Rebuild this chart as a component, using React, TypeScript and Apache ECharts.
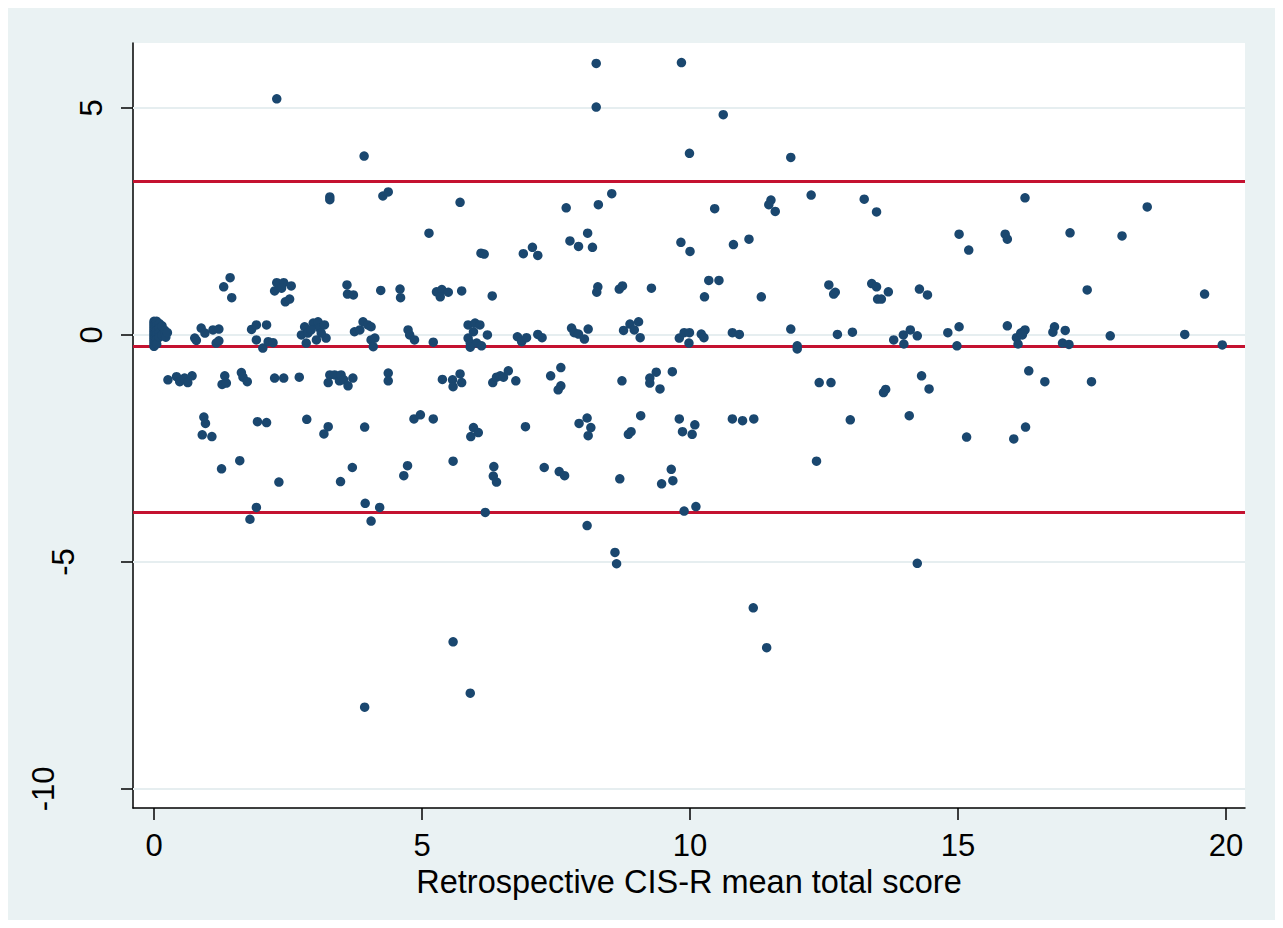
import React, { useEffect, useRef } from "react";
import * as echarts from "echarts";

// Bland–Altman style scatter: x = retrospective CIS-R mean total score, y = difference
const scatterPoints: [number, number][] = [
  // cluster at zero
  [0, 0.3], [0, 0.25], [0, 0.2], [0, 0.15], [0, 0.1], [0, 0.05], [0, 0], [0, -0.05], [0, -0.1], [0, -0.15], [0, -0.2], [0, -0.25],
  [0.05, 0.3], [0.05, 0.2], [0.05, 0.1], [0.05, 0], [0.05, -0.1], [0.05, -0.2], [0.1, 0.25], [0.1, 0.15], [0.1, 0.05], [0.1, -0.05],
  [0.15, 0.2], [0.15, 0], [0.2, 0.1], [0.2, 0], [0.22, -0.05], [0.25, 0.05],
  // x 0-5
  [2.29, 5.2], [3.92, 3.94], [3.28, 3.04], [3.28, 2.98], [4.27, 3.06], [4.37, 3.15],
  [1.42, 1.26], [1.3, 1.06], [1.45, 0.82], [2.29, 1.15], [2.42, 1.15], [2.25, 0.97], [2.38, 1.03], [2.56, 1.08], [2.45, 0.73], [2.53, 0.79],
  [3.6, 1.1], [3.61, 0.9], [3.72, 0.88], [4.23, 0.98], [4.59, 1.01], [4.6, 0.82],
  [0.76, -0.07], [0.79, -0.12], [0.88, 0.15], [0.95, 0.04], [1.1, 0.11], [1.21, 0.13], [1.16, -0.18], [1.21, -0.13],
  [1.82, 0.12], [1.91, 0.22], [2.1, 0.22], [1.91, -0.11], [2.03, -0.29], [2.13, -0.15], [2.22, -0.17],
  [2.75, 0], [2.81, 0.18], [2.87, 0.04], [2.97, 0.26], [3.06, 0.29], [3.09, 0.15], [3.18, 0.22], [3.21, -0.07], [3.03, -0.11], [2.84, -0.18], [2.93, 0.11], [3.12, 0.04],
  [3.74, 0.07], [3.84, 0.11], [3.9, 0.29], [3.99, 0.22], [4.05, 0.18], [4.05, -0.11], [4.09, -0.26], [4.12, -0.07],
  [4.74, 0.11], [4.77, 0], [4.86, -0.11],
  [0.26, -0.99], [0.42, -0.92], [0.48, -1.03], [0.57, -0.95], [0.63, -1.05], [0.71, -0.9], [1.32, -0.9], [1.27, -1.09], [1.35, -1.06],
  [1.63, -0.83], [1.66, -0.93], [1.74, -1.03], [2.25, -0.95], [2.42, -0.95], [2.71, -0.93], [3.28, -0.88], [3.25, -1.05], [3.37, -0.88],
  [3.46, -1.01], [3.49, -0.88], [3.54, -0.99], [3.62, -1.12], [3.71, -0.95], [4.37, -0.84], [4.37, -1.01],
  [0.93, -1.81], [0.96, -1.95], [0.9, -2.2], [1.08, -2.24], [1.93, -1.91], [2.1, -1.93], [2.85, -1.86], [3.25, -2.02], [3.17, -2.18],
  [3.93, -2.03], [4.85, -1.85], [4.97, -1.76],
  [1.26, -2.95], [1.6, -2.77], [2.33, -3.24], [3.48, -3.23], [3.7, -2.92], [4.73, -2.88], [4.66, -3.1],
  [1.91, -3.8], [1.79, -4.06], [3.94, -3.71], [4.21, -3.8], [4.05, -4.1], [3.93, -8.2],
  // x 5-10
  [8.25, 5.98], [9.84, 6.0], [8.25, 5.02], [9.99, 4.0], [5.71, 2.92], [7.69, 2.8], [8.29, 2.87], [8.54, 3.11], [5.13, 2.24],
  [6.1, 1.8], [6.16, 1.78], [6.89, 1.79], [7.06, 1.93], [7.16, 1.75], [7.76, 2.07], [7.92, 1.95], [8.09, 2.24], [8.18, 1.93], [9.83, 2.04], [10.0, 1.84],
  [5.27, 0.95], [5.37, 1.0], [5.49, 0.94], [5.34, 0.84], [5.74, 0.97], [6.31, 0.86], [8.28, 1.06], [8.26, 0.94], [8.68, 1.01], [8.74, 1.08], [9.28, 1.03], [10.27, 0.84],
  [5.21, -0.16], [5.86, 0.22], [5.99, 0.26], [6.08, 0.22], [5.96, 0.07], [5.86, -0.07], [5.9, -0.18], [6.02, -0.18], [6.11, -0.24], [5.9, -0.27], [6.22, 0],
  [6.78, -0.04], [6.86, -0.15], [6.95, -0.06], [7.16, 0.01], [7.24, -0.06], [7.79, 0.15], [7.84, 0.05], [7.92, 0.02], [8.03, -0.09], [8.1, 0.13],
  [8.76, 0.1], [8.88, 0.24], [8.96, 0.11], [9.04, 0.29], [9.07, -0.06], [9.8, -0.07], [9.89, 0.05], [9.99, 0.05], [9.98, -0.18], [10.21, 0.02],
  [5.38, -0.98], [5.57, -0.99], [5.58, -1.14], [5.71, -0.86], [5.74, -1.05], [6.32, -1.05], [6.39, -0.93], [6.46, -0.9], [6.52, -0.93], [6.61, -0.79], [6.75, -1.01],
  [7.4, -0.9], [7.59, -0.72], [7.59, -1.12], [7.54, -1.21], [8.73, -1.01], [9.25, -0.95], [9.25, -1.06], [9.37, -0.82], [9.44, -1.19], [9.67, -0.81],
  [5.21, -1.85], [5.96, -2.04], [6.05, -2.15], [5.91, -2.24], [6.93, -2.02], [7.93, -1.95], [8.08, -1.83], [8.15, -2.04], [8.1, -2.22],
  [8.85, -2.19], [8.9, -2.13], [9.08, -1.78], [9.8, -1.85], [9.86, -2.13], [10.04, -2.19], [10.09, -1.98],
  [5.58, -2.78], [6.34, -2.9], [6.33, -3.11], [6.39, -3.24], [7.28, -2.92], [7.56, -3.01], [7.66, -3.1], [8.69, -3.17], [9.47, -3.28], [9.65, -2.96], [9.68, -3.21],
  [6.18, -3.91], [8.08, -4.2], [9.89, -3.88], [10.11, -3.78], [8.6, -4.79], [8.63, -5.04], [5.58, -6.76], [5.9, -7.89],
  // x 10-20
  [10.62, 4.85], [11.88, 3.91], [10.46, 2.78], [11.51, 2.97], [11.47, 2.87], [11.59, 2.72], [12.26, 3.08], [13.25, 2.99], [13.48, 2.71],
  [10.81, 1.99], [11.1, 2.11], [15.02, 2.22], [15.2, 1.87],
  [10.35, 1.2], [10.54, 1.2], [11.33, 0.84], [12.59, 1.1], [12.71, 0.94], [12.68, 0.9], [13.39, 1.13], [13.48, 1.06], [13.7, 0.95], [13.5, 0.79], [13.57, 0.79], [14.28, 1.01], [14.43, 0.88],
  [10.26, -0.06], [10.79, 0.05], [10.92, 0.01], [11.88, 0.13], [12.0, -0.24], [12.0, -0.31], [12.75, 0.01], [13.03, 0.06],
  [13.8, -0.11], [13.98, 0], [13.99, -0.2], [14.11, 0.11], [14.24, -0.02], [14.81, 0.05], [15.02, 0.18], [14.98, -0.24],
  [12.41, -1.05], [12.63, -1.05], [13.61, -1.27], [13.65, -1.2], [14.32, -0.9], [14.46, -1.19],
  [10.79, -1.85], [10.98, -1.89], [11.19, -1.85], [12.99, -1.87], [14.09, -1.78], [15.16, -2.25], [12.36, -2.78],
  [14.24, -5.03], [11.18, -6.01], [11.43, -6.89],
  [16.25, 3.02], [18.53, 2.82], [15.88, 2.22], [15.92, 2.11], [17.09, 2.25], [18.06, 2.18], [17.41, 0.99], [19.6, 0.9],
  [15.92, 0.2], [16.09, -0.06], [16.12, -0.2], [16.17, 0.04], [16.22, 0.07], [16.25, 0.11], [16.2, 0], [16.8, 0.18], [16.77, 0.06],
  [17.0, 0.1], [16.95, -0.18], [17.07, -0.21], [17.84, -0.02], [19.23, 0.01], [19.93, -0.22],
  [16.32, -0.79], [16.62, -1.03], [17.49, -1.03], [16.26, -2.03], [16.04, -2.29],
];

// mean difference and 95% limits of agreement
const limitLines = [3.39, -0.24, -3.9];

const xTicks = [0, 5, 10, 15, 20];
const yTicks = [-10, -5, 0, 5];
const xTitle = "Retrospective CIS-R mean total score";

const FONT = "'Liberation Sans', Arial, Helvetica, sans-serif";

export default function App() {
  const ref = useRef<HTMLDivElement>(null);

  useEffect(() => {
    if (!ref.current) return;
    const chart = echarts.init(ref.current, undefined, { renderer: "svg" });
    const shiftStyle = (v: number) => {
      const s = String(v);
      if (s.length >= 3) return "p2";
      if (s.length === 2) return "p1";
      return "p0";
    };
    chart.setOption({
      animation: false,
      backgroundColor: "#EAF2F3",
      grid: {
        left: 125,
        top: 35,
        width: 1112,
        height: 765,
        show: true,
        backgroundColor: "#ffffff",
        borderWidth: 0,
      },
      xAxis: {
        type: "value",
        min: -0.392,
        max: 20.354,
        name: xTitle,
        nameLocation: "middle",
        nameGap: 54,
        nameTextStyle: { fontFamily: FONT, fontSize: 32.5, color: "#000" },
        axisLine: { show: true, onZero: false, lineStyle: { color: "#000", width: 1.5 } },
        axisTick: { show: true, length: 12, customValues: xTicks, lineStyle: { color: "#000", width: 1.5 } },
        axisLabel: { customValues: xTicks, margin: 22, fontFamily: FONT, fontSize: 31, color: "#000" },
        splitLine: { show: false },
      },
      yAxis: {
        type: "value",
        min: -10.42,
        max: 6.43,
        axisLine: { show: true, onZero: false, lineStyle: { color: "#000", width: 1.5 } },
        axisTick: { show: true, length: 12, customValues: yTicks, lineStyle: { color: "#000", width: 1.5 } },
        axisLabel: {
          customValues: yTicks,
          rotate: 90,
          margin: 26,
          fontFamily: FONT,
          fontSize: 31,
          color: "#000",
          formatter: (v: number) => `{${shiftStyle(v)}|${v}}`,
          rich: {
            p0: { fontFamily: FONT, fontSize: 31, color: "#000", padding: [0, 0, 0, 0] },
            p1: { fontFamily: FONT, fontSize: 31, color: "#000", padding: [0, 0, 28, 0] },
            p2: { fontFamily: FONT, fontSize: 31, color: "#000", padding: [0, 0, 48, 0] },
          },
        },
        splitLine: { show: false },
      },
      series: [
        {
          type: "line",
          data: [],
          z: 1,
          silent: true,
          markLine: {
            silent: true,
            symbol: "none",
            label: { show: false },
            lineStyle: { color: "#E6EEF0", width: 2, type: "solid" },
            data: yTicks.map((v) => ({ yAxis: v })),
          },
        },
        {
          type: "line",
          data: [],
          z: 2,
          silent: true,
          markLine: {
            silent: true,
            symbol: "none",
            label: { show: false },
            lineStyle: { color: "#C41230", width: 3, type: "solid" },
            data: limitLines.map((v) => ({ yAxis: v })),
          },
        },
        {
          type: "scatter",
          z: 5,
          symbol: "circle",
          symbolSize: 9.5,
          itemStyle: { color: "#1A476F", opacity: 1 },
          data: scatterPoints,
        },
      ],
    });
    return () => chart.dispose();
  }, []);

  return <div ref={ref} style={{ width: 1267, height: 912 }} />;
}
